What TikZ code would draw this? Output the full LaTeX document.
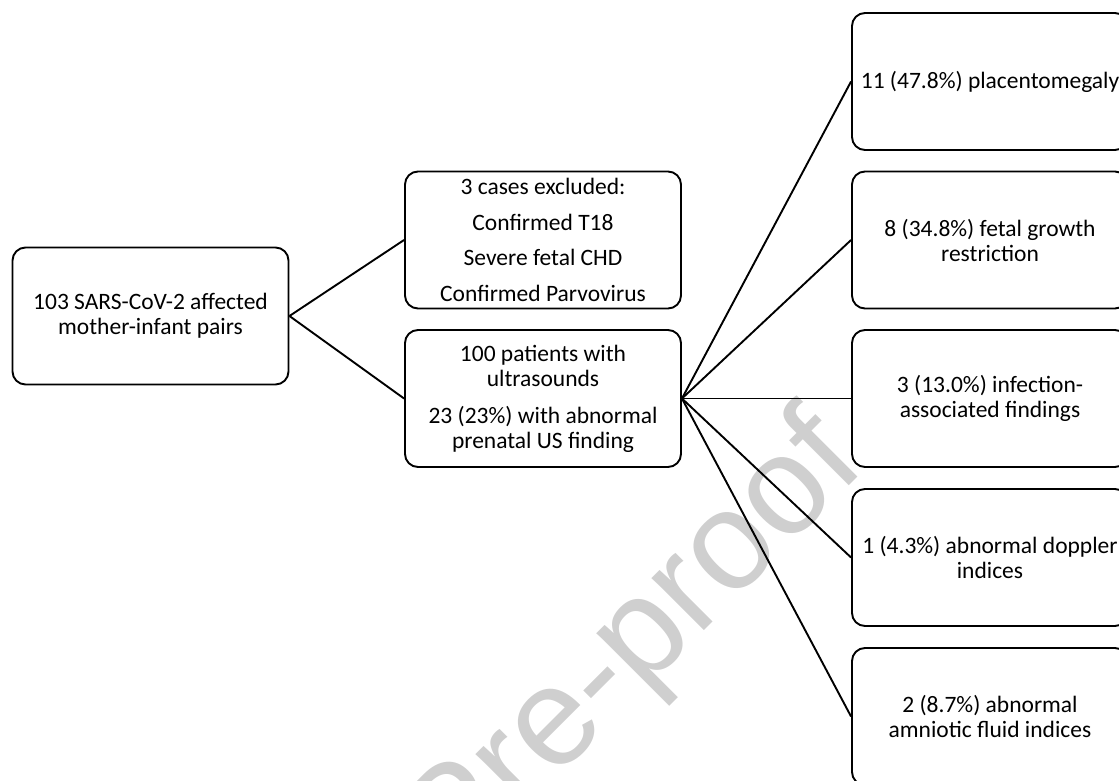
\documentclass[tikz,border=0pt]{standalone}
\usepackage{fontspec}
\setmainfont{Carlito}
\newfontfamily\wmfont{Liberation Sans}
\begin{document}
\begin{tikzpicture}[x=1pt,y=-1pt,
  box/.style={draw=black, line width=1.9pt, rounded corners=13pt, fill=white,
    minimum width=276pt, minimum height=137pt, inner sep=0pt, align=center,
    text=black, font=\fontsize{23.5}{25}\selectfont},
  link/.style={draw=black, line width=1.9pt},
  watermark/.style={font=\wmfont\fontsize{140}{140}\selectfont, text=black!19,
    rotate=45, anchor=base east, inner sep=0pt}
]
\useasboundingbox (0,0) rectangle (1119,781);
\clip (0,0) rectangle (1119,781);
\node[watermark] (wm) at (868,467) {Journal Pre-proof};

\node[box] (L) at (150.5,316) {103 SARS-CoV-2 affected\\mother-infant pairs};
\node[box] (E) at (543,240) {3 cases excluded:\\[10.5pt]Confirmed T18\\[10.5pt]Severe fetal CHD\\[10.5pt]Confirmed Parvovirus};
\node[box] (P) at (543,398.5) {100 patients with\\ultrasounds\\[12pt]23 (23\%) with abnormal\\prenatal US finding};

\node[box] (R1) at (990,81.5) {11 (47.8\%) placentomegaly};
\node[box] (R2) at (990,240) {8 (34.8\%) fetal growth\\restriction};
\node[box] (R3) at (990,398.5) {3 (13.0\%) infection-\\associated findings};
\node[box] (R4) at (990,557.5) {1 (4.3\%) abnormal doppler\\indices};
\node[box] (R5) at (990,716.5) {2 (8.7\%) abnormal\\amniotic fluid indices};

\draw[link] (L.east) -- (E.west);
\draw[link] (L.east) -- (P.west);
\foreach \r in {R1,R2,R3,R4,R5}{
  \draw[link] (P.east) -- (\r.west);
}
\end{tikzpicture}
\end{document}
